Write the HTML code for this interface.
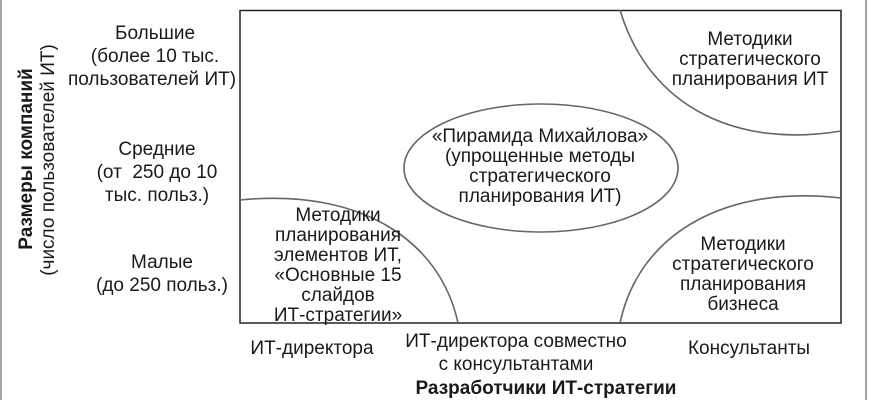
<!DOCTYPE html>
<html><head><meta charset="utf-8"><style>
html,body{margin:0;padding:0;background:#fff;}
svg{display:block;}
text{font-family:"Liberation Sans",sans-serif;font-size:19px;fill:#1a1a1a;}
.b{font-weight:bold;}
</style></head><body>
<svg width="870" height="400" viewBox="0 0 870 400" xmlns="http://www.w3.org/2000/svg">
<line x1="1" y1="0" x2="1" y2="400" stroke="#888" stroke-width="1.5"/>
<line x1="866" y1="0" x2="866" y2="400" stroke="#888" stroke-width="1.5"/>
<rect x="240" y="10.5" width="601" height="312.5" fill="none" stroke="#222" stroke-width="1.5"/>
<g fill="none" stroke="#666" stroke-width="1.6">
<path d="M240,200 C360,188 440,240 458,323"/>
<path d="M620,10 C650,110 740,148 841,131"/>
<path d="M620,323 C640,230 730,185 841,198"/>
<ellipse cx="541" cy="168" rx="137" ry="64"/>
</g>
<g text-anchor="middle">
<text x="155" y="39">Большие</text>
<text x="155" y="62">(более 10 тыс.</text>
<text x="152" y="85">пользователей ИТ)</text>
<text x="157" y="155">Средние</text>
<text x="157" y="178">(от &#160;250 до 10</text>
<text x="157" y="201">тыс. польз.)</text>
<text x="162" y="268">Малые</text>
<text x="162" y="291">(до 250 польз.)</text>
<text class="b" transform="translate(32,159) rotate(-90)">Размеры компаний</text>
<text transform="translate(54,160) rotate(-90)">(число пользователей ИТ)</text>
<text x="338" y="221">Методики</text>
<text x="338" y="241">планирования</text>
<text x="338" y="261">элементов ИТ,</text>
<text x="338" y="281">«Основные 15</text>
<text x="338" y="301">слайдов</text>
<text x="338" y="321">ИТ-стратегии»</text>
<text x="750" y="45">Методики</text>
<text x="750" y="65">стратегического</text>
<text x="750" y="85">планирования ИТ</text>
<text x="540" y="142">«Пирамида Михайлова»</text>
<text x="540" y="162">(упрощенные методы</text>
<text x="540" y="182">стратегического</text>
<text x="540" y="202">планирования ИТ)</text>
<text x="743" y="250">Методики</text>
<text x="743" y="270">стратегического</text>
<text x="743" y="290">планирования</text>
<text x="743" y="310">бизнеса</text>
<text x="312" y="354">ИТ-директора</text>
<text x="516" y="347">ИТ-директора совместно</text>
<text x="516" y="370">с консультантами</text>
<text x="749" y="354">Консультанты</text>
<text class="b" x="546" y="394">Разработчики ИТ-стратегии</text>
</g>
</svg>
</body></html>
